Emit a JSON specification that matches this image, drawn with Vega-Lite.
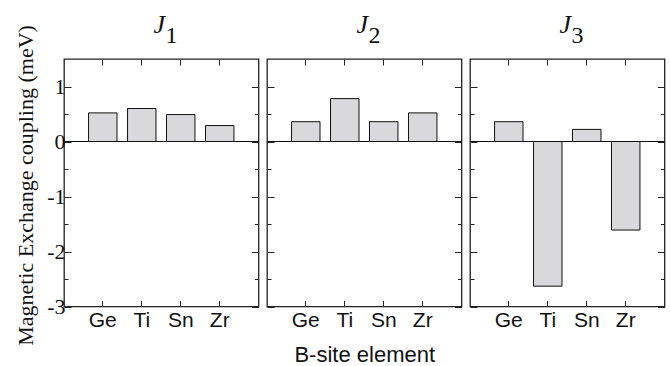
{
  "$schema": "https://vega.github.io/schema/vega-lite/v6.json",
  "background": "white",
  "padding": {"left": 15, "top": 10, "right": 0, "bottom": 0},
  "spacing": 5,
  "title": {"text": "Magnetic Exchange coupling (meV)", "orient": "left", "anchor": "middle", "font": "Liberation Serif", "fontSize": 22, "fontStyle": "normal", "fontWeight": "normal", "offset": 8, "dx": 3, "color": "#111"},
  "datasets": {
    "d": [
      {"J": "J1", "element": "Ge", "value": 0.52},
      {"J": "J1", "element": "Ti", "value": 0.60},
      {"J": "J1", "element": "Sn", "value": 0.49},
      {"J": "J1", "element": "Zr", "value": 0.29},
      {"J": "J2", "element": "Ge", "value": 0.36},
      {"J": "J2", "element": "Ti", "value": 0.78},
      {"J": "J2", "element": "Sn", "value": 0.36},
      {"J": "J2", "element": "Zr", "value": 0.52},
      {"J": "J3", "element": "Ge", "value": 0.36},
      {"J": "J3", "element": "Ti", "value": -2.63},
      {"J": "J3", "element": "Sn", "value": 0.22},
      {"J": "J3", "element": "Zr", "value": -1.61}
    ]
  },
  "config": {
    "view": {"stroke": "#222", "strokeWidth": 1.3},
    "title": {
      "font": "Liberation Serif", "fontStyle": "italic", "fontWeight": "normal", "fontSize": 26, "color": "#111",
      "anchor": "middle", "offset": -14, "dx": -2
    },
    "axis": {"domain": false, "grid": false, "tickColor": "#222", "tickWidth": 1, "labelColor": "#111", "titleColor": "#111", "titleFontWeight": "normal"}
  },
  "hconcat": [
    {
      "width": 194.5, "height": 247.5,
      "title": {"text": "J"},
      "data": {"name": "d"},
      "transform": [{"filter": "datum.J == 'J1'"}],
      "layer": [
        {
          "mark": {"type": "bar", "fill": "#d9d9db", "stroke": "#111", "strokeWidth": 1},
          "encoding": {
            "x": {"field": "element", "type": "nominal", "sort": ["Ge", "Ti", "Sn", "Zr"], "scale": {"paddingInner": 0.27, "paddingOuter": 0.63},
              "axis": {"orient": "bottom", "labelAngle": 0, "tickSize": -6, "labelFont": "Liberation Sans", "labelFontSize": 21, "labelPadding": 9, "title": null}},
            "y": {"field": "value", "type": "quantitative", "scale": {"domain": [-3, 1.5], "nice": false},
              "axis": {"orient": "left", "values": [-3, -2.5, -2, -1.5, -1, -0.5, 0, 0.5, 1],
                "tickSize": {"condition": {"test": "datum.value % 1 === 0", "value": -7}, "value": -4},
                "labelExpr": "datum.value % 1 === 0 ? '' + datum.value : ''",
                "labelFont": "Liberation Serif", "labelFontSize": 22, "labelPadding": 6, "title": null}}
          }
        },
        {
          "mark": {"type": "rule", "color": "#111", "strokeWidth": 1},
          "encoding": {"y": {"datum": 0, "type": "quantitative", "axis": null}}
        },
        {
          "mark": {"type": "bar", "opacity": 0},
          "encoding": {
            "x": {"field": "element", "type": "nominal", "sort": ["Ge", "Ti", "Sn", "Zr"],
              "axis": {"orient": "top", "labels": false, "tickSize": -6,
                "title": "1", "titleFont": "Liberation Serif", "titleFontSize": 24, "titleFontStyle": "normal", "titleAlign": "left", "titleX": 101, "titlePadding": 11}},
            "y": {"field": "value", "type": "quantitative",
              "axis": {"orient": "right", "values": [-3, -2.5, -2, -1.5, -1, -0.5, 0, 0.5, 1],
                "tickSize": {"condition": {"test": "datum.value % 1 === 0", "value": -7}, "value": -4},
                "labels": false, "title": null}}
          }
        }
      ],
      "resolve": {"axis": {"x": "independent", "y": "independent"}}
    },
    {
      "width": 194.5, "height": 247.5,
      "title": {"text": "J"},
      "data": {"name": "d"},
      "transform": [{"filter": "datum.J == 'J2'"}],
      "layer": [
        {
          "mark": {"type": "bar", "fill": "#d9d9db", "stroke": "#111", "strokeWidth": 1},
          "encoding": {
            "x": {"field": "element", "type": "nominal", "sort": ["Ge", "Ti", "Sn", "Zr"], "scale": {"paddingInner": 0.27, "paddingOuter": 0.63},
              "axis": {"orient": "bottom", "labelAngle": 0, "tickSize": -6, "labelFont": "Liberation Sans", "labelFontSize": 21, "labelPadding": 9,
                "title": "B-site element", "titleFont": "Liberation Sans", "titleFontSize": 22, "titlePadding": 14}},
            "y": {"field": "value", "type": "quantitative", "scale": {"domain": [-3, 1.5], "nice": false},
              "axis": {"orient": "left", "values": [-3, -2.5, -2, -1.5, -1, -0.5, 0, 0.5, 1],
                "tickSize": {"condition": {"test": "datum.value % 1 === 0", "value": -7}, "value": -4},
                "labels": false, "title": null}}
          }
        },
        {
          "mark": {"type": "rule", "color": "#111", "strokeWidth": 1},
          "encoding": {"y": {"datum": 0, "type": "quantitative", "axis": null}}
        },
        {
          "mark": {"type": "bar", "opacity": 0},
          "encoding": {
            "x": {"field": "element", "type": "nominal", "sort": ["Ge", "Ti", "Sn", "Zr"],
              "axis": {"orient": "top", "labels": false, "tickSize": -6,
                "title": "2", "titleFont": "Liberation Serif", "titleFontSize": 24, "titleFontStyle": "normal", "titleAlign": "left", "titleX": 101, "titlePadding": 11}},
            "y": {"field": "value", "type": "quantitative",
              "axis": {"orient": "right", "values": [-3, -2.5, -2, -1.5, -1, -0.5, 0, 0.5, 1],
                "tickSize": {"condition": {"test": "datum.value % 1 === 0", "value": -7}, "value": -4},
                "labels": false, "title": null}}
          }
        }
      ],
      "resolve": {"axis": {"x": "independent", "y": "independent"}}
    },
    {
      "width": 194.5, "height": 247.5,
      "title": {"text": "J"},
      "data": {"name": "d"},
      "transform": [{"filter": "datum.J == 'J3'"}],
      "layer": [
        {
          "mark": {"type": "bar", "fill": "#d9d9db", "stroke": "#111", "strokeWidth": 1},
          "encoding": {
            "x": {"field": "element", "type": "nominal", "sort": ["Ge", "Ti", "Sn", "Zr"], "scale": {"paddingInner": 0.27, "paddingOuter": 0.63},
              "axis": {"orient": "bottom", "labelAngle": 0, "tickSize": -6, "labelFont": "Liberation Sans", "labelFontSize": 21, "labelPadding": 9, "title": null}},
            "y": {"field": "value", "type": "quantitative", "scale": {"domain": [-3, 1.5], "nice": false},
              "axis": {"orient": "left", "values": [-3, -2.5, -2, -1.5, -1, -0.5, 0, 0.5, 1],
                "tickSize": {"condition": {"test": "datum.value % 1 === 0", "value": -7}, "value": -4},
                "labels": false, "title": null}}
          }
        },
        {
          "mark": {"type": "rule", "color": "#111", "strokeWidth": 1},
          "encoding": {"y": {"datum": 0, "type": "quantitative", "axis": null}}
        },
        {
          "mark": {"type": "bar", "opacity": 0},
          "encoding": {
            "x": {"field": "element", "type": "nominal", "sort": ["Ge", "Ti", "Sn", "Zr"],
              "axis": {"orient": "top", "labels": false, "tickSize": -6,
                "title": "3", "titleFont": "Liberation Serif", "titleFontSize": 24, "titleFontStyle": "normal", "titleAlign": "left", "titleX": 101, "titlePadding": 11}},
            "y": {"field": "value", "type": "quantitative",
              "axis": {"orient": "right", "values": [-3, -2.5, -2, -1.5, -1, -0.5, 0, 0.5, 1],
                "tickSize": {"condition": {"test": "datum.value % 1 === 0", "value": -7}, "value": -4},
                "labels": false, "title": null}}
          }
        }
      ],
      "resolve": {"axis": {"x": "independent", "y": "independent"}}
    }
  ]
}
